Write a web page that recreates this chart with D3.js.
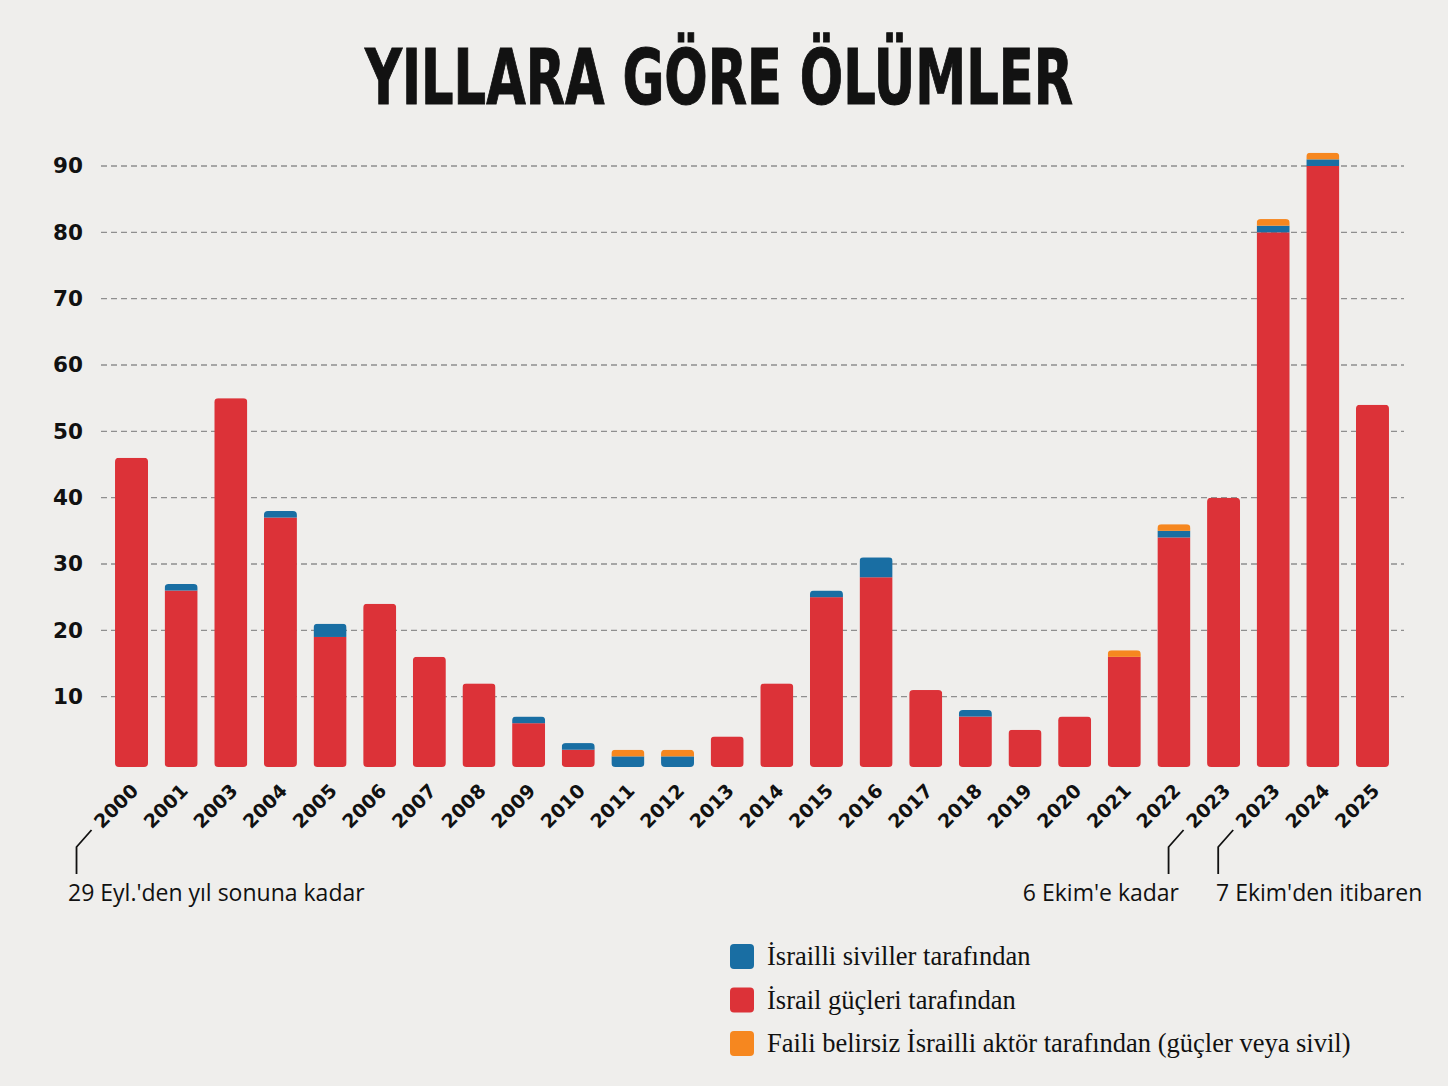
<!DOCTYPE html>
<html>
<head>
  <meta charset="utf-8">
  <title>Yıllara göre ölümler</title>
  <style>
    html, body { margin: 0; padding: 0; background: #efeeec; }
    svg { display: block; }
  </style>
</head>
<body>
  <svg width="1448" height="1086"></svg>
  <script src="https://d3js.org/d3.v7.min.js"></script>
  <script>
    // data
    var years = ["2000", "2001", "2003", "2004", "2005", "2006", "2007", "2008", "2009", "2010",
      "2011", "2012", "2013", "2014", "2015", "2016", "2017", "2018", "2019", "2020",
      "2021", "2022", "2023", "2023", "2024", "2025"];
    var byForces = [46, 26, 55, 37, 19, 24, 16, 12, 6, 2, 0, 0, 4, 12, 25, 28, 11, 7, 5, 7, 16, 34, 40, 80, 90, 54];
    var byCivilians = [0, 1, 0, 1, 2, 0, 0, 0, 1, 1, 1, 1, 0, 0, 1, 3, 0, 1, 0, 0, 0, 1, 0, 1, 1, 0];
    var byUnknown = [0, 0, 0, 0, 0, 0, 0, 0, 0, 0, 1, 1, 0, 0, 0, 0, 0, 0, 0, 0, 1, 1, 0, 1, 1, 0];
    var yTicks = [10, 20, 30, 40, 50, 60, 70, 80, 90];

    var seriesKeys = ["forces", "civilians", "unknown"];
    var colors = { forces: "#dc3238", civilians: "#196ea3", unknown: "#f6871f" };
    var legendItems = [
      { key: "civilians", label: "İsrailli siviller tarafından" },
      { key: "forces", label: "İsrail güçleri tarafından" },
      { key: "unknown", label: "Faili belirsiz İsrailli aktör tarafından (güçler veya sivil)" }
    ];
    var notes = [
      { idx: 0, text: "29 Eyl.'den yıl sonuna kadar", tx: 68, anchor: "start" },
      { idx: 22, text: "6 Ekim'e kadar", tx: 1179, anchor: "end" },
      { idx: 23, text: "7 Ekim'den itibaren", tx: 1216, anchor: "start" }
    ];

    var rows = years.map(function (y, i) {
      return { i: i, year: y, forces: byForces[i], civilians: byCivilians[i], unknown: byUnknown[i] };
    });

    var svg = d3.select("svg");

    // 1. title
    svg.append("text")
      .attr("x", 719)
      .attr("y", 104)
      .attr("text-anchor", "middle")
      .attr("font-family", "'DejaVu Sans Condensed', 'DejaVu Sans'")
      .attr("font-weight", "bold")
      .attr("font-size", 76)
      .attr("textLength", 708)
      .attr("lengthAdjust", "spacingAndGlyphs")
      .attr("fill", "#121212")
      .attr("stroke", "#121212")
      .attr("stroke-width", 1)
      .text("YILLARA GÖRE ÖLÜMLER");

    // 2. scales
    var x = d3.scaleBand()
      .domain(rows.map(function (d) { return d.i; }))
      .range([106.7, 1397.3])
      .paddingInner(0.335)
      .paddingOuter(0.1675);

    var y = d3.scaleLinear().domain([0, 90]).range([763, 166]);

    // grid
    svg.append("g")
      .selectAll("line")
      .data(yTicks)
      .enter()
      .append("line")
      .attr("x1", 101)
      .attr("x2", 1404)
      .attr("y1", function (d) { return y(d); })
      .attr("y2", function (d) { return y(d); })
      .attr("stroke", "#8f8f8f")
      .attr("stroke-width", 1.3)
      .attr("stroke-dasharray", "6,4");

    var yAxis = d3.axisLeft(y).tickValues(yTicks).tickSize(0).tickPadding(0);
    var gy = svg.append("g").attr("transform", "translate(83,0)").call(yAxis);
    gy.select(".domain").remove();
    gy.selectAll("text")
      .attr("font-family", "'DejaVu Sans'")
      .attr("font-weight", "bold")
      .attr("font-size", 21.5)
      .attr("fill", "#111");

    // 3. bars
    var stack = d3.stack().keys(seriesKeys);
    var stacked = stack(rows);
    var extra = 4; // bars reach a little below the zero line

    var defs = svg.append("defs");
    rows.forEach(function (d) {
      var total = d.forces + d.civilians + d.unknown;
      defs.append("clipPath")
        .attr("id", "clip" + d.i)
        .append("rect")
        .attr("x", x(d.i))
        .attr("y", y(total))
        .attr("width", x.bandwidth())
        .attr("height", y(0) + extra - y(total))
        .attr("rx", 4);
    });

    var barG = svg.append("g");
    stacked.forEach(function (layer) {
      barG.append("g")
        .attr("fill", colors[layer.key])
        .selectAll("rect")
        .data(layer.filter(function (d) { return d[1] > d[0]; }))
        .enter()
        .append("rect")
        .attr("clip-path", function (d) { return "url(#clip" + d.data.i + ")"; })
        .attr("x", function (d) { return x(d.data.i); })
        .attr("y", function (d) { return y(d[1]); })
        .attr("width", x.bandwidth())
        .attr("height", function (d) {
          return y(d[0]) - y(d[1]) + (d[0] === 0 ? extra : 0);
        });
    });

    // 4. x labels
    svg.append("g")
      .selectAll("text")
      .data(rows)
      .enter()
      .append("text")
      .attr("transform", function (d) {
        return "translate(" + (x(d.i) + x.bandwidth() / 2 + 8) + ",792) rotate(-45)";
      })
      .attr("text-anchor", "end")
      .attr("font-family", "'DejaVu Sans'")
      .attr("font-weight", "bold")
      .attr("font-size", 19)
      .attr("fill", "#111")
      .text(function (d) { return d.year; });

    // 5. notes with leader lines
    var noteG = svg.append("g");
    notes.forEach(function (n) {
      var cx = x(n.idx) + x.bandwidth() / 2;
      var lx = cx - 55;
      noteG.append("path")
        .attr("d", "M" + (lx + 15) + ",830 L" + lx + ",847 L" + lx + ",874")
        .attr("fill", "none")
        .attr("stroke", "#111")
        .attr("stroke-width", 1.8);
      noteG.append("text")
        .attr("x", n.tx)
        .attr("y", 901)
        .attr("text-anchor", n.anchor)
        .attr("font-family", "'Open Sans'")
        .attr("font-size", 23)
        .attr("fill", "#111")
        .text(n.text);
    });

    // 6. legend
    var leg = svg.append("g")
      .selectAll("g")
      .data(legendItems)
      .enter()
      .append("g")
      .attr("transform", function (d, i) { return "translate(730," + (944 + i * 43.5) + ")"; });
    leg.append("rect")
      .attr("width", 24)
      .attr("height", 25)
      .attr("rx", 4)
      .attr("fill", function (d) { return colors[d.key]; });
    leg.append("text")
      .attr("x", 37)
      .attr("y", 21)
      .attr("font-family", "'Liberation Serif'")
      .attr("font-size", 26.5)
      .attr("fill", "#111")
      .text(function (d) { return d.label; });
  </script>
</body>
</html>
